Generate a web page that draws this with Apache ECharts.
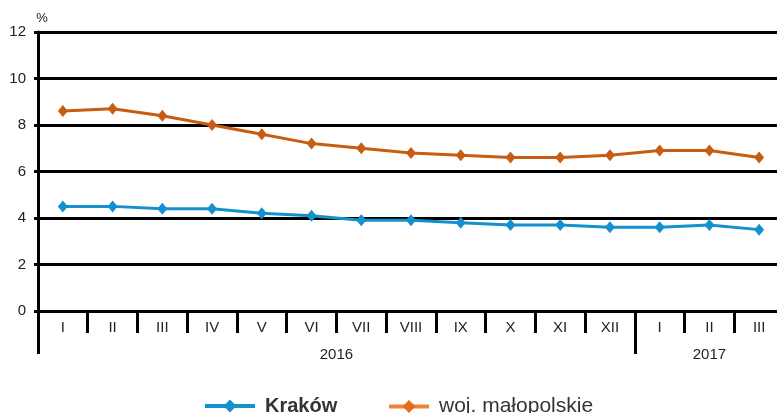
<!DOCTYPE html>
<html><head><meta charset="utf-8">
<script src="https://cdn.jsdelivr.net/npm/echarts@6/dist/echarts.min.js"></script>
<style>html,body{margin:0;padding:0;background:#fff}#c{width:777px;height:413px}</style>
</head><body><div id="c"></div>
<script>
var months = ['I','II','III','IV','V','VI','VII','VIII','IX','X','XI','XII','I','II','III'];
var krakow = [4.5,4.5,4.4,4.4,4.2,4.1,3.9,3.9,3.8,3.7,3.7,3.6,3.6,3.7,3.5];
var malopolskie = [8.6,8.7,8.4,8.0,7.6,7.2,7.0,6.8,6.7,6.6,6.6,6.7,6.9,6.9,6.6];
var yearLabels = ['2016','2017'];
var yearCenters = [6, 13.5];
var yearBoundaries = [0, 12];

var FONT = '"Liberation Sans", Arial, sans-serif';
var chart = echarts.init(document.getElementById('c'));
chart.setOption({
  animation: false,
  grid: {left: 38, top: 32, width: 746, height: 279, outerBoundsMode: 'none', containLabel: false},
  xAxis: [{
    type: 'category', data: months, boundaryGap: true,
    axisLine: {lineStyle: {color: '#000', width: 3}},
    axisTick: {show: true, interval: 0, length: 22, lineStyle: {color: '#000', width: 3}},
    axisLabel: {interval: 0, margin: 9, color: '#222', fontSize: 15, fontFamily: FONT},
    splitLine: {show: false}
  }, {
    type: 'value', min: 0, max: months.length, position: 'bottom',
    axisLine: {show: false},
    splitLine: {show: false},
    axisTick: {show: true, customValues: yearBoundaries, length: 43, lineStyle: {color: '#000', width: 3}},
    axisLabel: {customValues: yearCenters, margin: 36, color: '#222', fontSize: 15, fontFamily: FONT,
      formatter: function (v) { var i = yearCenters.indexOf(v); return i >= 0 ? yearLabels[i] : ''; }}
  }],
  yAxis: {
    type: 'value', min: 0, max: 12, interval: 2,
    name: '%', nameLocation: 'end', nameGap: 7,
    nameTextStyle: {color: '#222', fontSize: 13, fontFamily: FONT, padding: [0, 0, 0, 8]},
    axisLine: {show: true, lineStyle: {color: '#000', width: 3}},
    axisTick: {show: true, length: 4, lineStyle: {color: '#000', width: 3}},
    axisLabel: {margin: 12, color: '#222', fontSize: 15, fontFamily: FONT},
    splitLine: {show: true, lineStyle: {color: '#000', width: 3}}
  },
  legend: [{
    data: [{name: 'Kraków', lineStyle: {width: 4}}],
    left: 203, top: 396, padding: 0, itemWidth: 50, itemHeight: 16, itemGap: 10,
    textStyle: {fontSize: 20, fontWeight: 'bold', color: '#333', fontFamily: FONT, padding: [0, 0, 0, 5]}
  }, {
    data: [{name: 'woj. małopolskie', lineStyle: {color: '#ef8636', width: 4}, itemStyle: {color: '#e36d1e'}}],
    left: 387, top: 396, padding: 0, itemWidth: 40, itemHeight: 16, itemGap: 10,
    textStyle: {fontSize: 21, color: '#333', fontFamily: FONT, padding: [0, 0, 0, 5]}
  }],
  series: [{
    name: 'Kraków', type: 'line', data: krakow,
    symbol: 'diamond', symbolSize: [10, 12],
    lineStyle: {color: '#1490cf', width: 3},
    itemStyle: {color: '#1490cf'}
  }, {
    name: 'woj. małopolskie', type: 'line', data: malopolskie,
    symbol: 'diamond', symbolSize: [10, 12],
    lineStyle: {color: '#c85c14', width: 3},
    itemStyle: {color: '#c85c14'}
  }]
});
</script></body></html>
